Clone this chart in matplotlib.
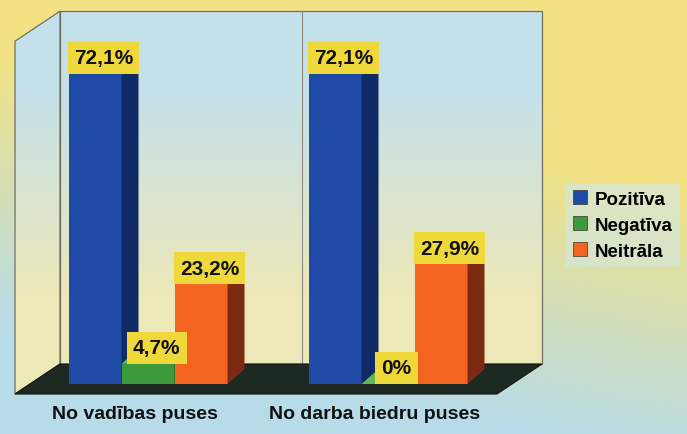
import numpy as np
import matplotlib.pyplot as plt
from matplotlib.patches import Polygon, Patch

categories = ["No vadības puses", "No darba biedru puses"]
series = ["Pozitīva", "Negatīva", "Neitrāla"]
values = {
    "Pozitīva": [72.1, 72.1],
    "Negatīva": [4.7, 0.0],
    "Neitrāla": [23.2, 27.9],
}
value_labels = {
    "Pozitīva": ["72,1%", "72,1%"],
    "Negatīva": ["4,7%", "0%"],
    "Neitrāla": ["23,2%", "27,9%"],
}

front_colors = ["#1f4ba6", "#3c9a3a", "#f2641f"]
side_colors = ["#102a66", "#1e5c22", "#7c2a12"]
top_colors = ["#3a66c0", "#5cb85a", "#f58a50"]

plt.rcParams['font.family'] = ['Liberation Sans', 'DejaVu Sans']

W, H = 687, 435
fig = plt.figure(figsize=(W / 100, H / 100), dpi=100)

# background gradient (yellow top-right -> light blue bottom-left)
bg = fig.add_axes([0, 0, 1, 1])
yy, xx = np.mgrid[0:1:200j, 0:1:300j]
t = np.clip(1.6 * yy - 0.5 * xx - 0.2, 0, 1)[..., None]
yellow = np.array([0.95, 0.89, 0.52])
blue = np.array([0.72, 0.86, 0.91])
bg.imshow(yellow * (1 - t) + blue * t, aspect='auto', extent=[0, 1, 0, 1])
bg.axis('off')

ax = fig.add_axes([0, 0, 1, 1])
ax.patch.set_alpha(0)
ax.axis('off')

# scale: 240 px per category, 4.3 px per percent
px_x, px_y = 240.0, 4.3
xlim = (-148 / px_x, (W - 148) / px_x)
ylim = (-50 / px_y, (H - 50) / px_y)
ax.set_xlim(*xlim)
ax.set_ylim(*ylim)

w = 53 / px_x
bdx, bdy = 17 / px_x, 15 / px_y      # bar depth
fdx, fdy = 45 / px_x, 30 / px_y      # floor depth
x0, x1 = -133 / px_x, 349 / px_x    # floor front edge
yf = -10 / px_y
ytop = 86.7

# wall gradient: light blue at top -> pale yellow lower down
wy = np.linspace(1, 0, 200)[:, None, None]
wt = np.clip((wy - 0.25) / 0.55, 0, 1)
wall_blue = np.array([0.77, 0.88, 0.92])
wall_yellow = np.array([0.93, 0.91, 0.72])
wall_img = wall_yellow * (1 - wt) + wall_blue * wt
wall_img = np.repeat(wall_img, 2, axis=1)

back = Polygon([(x0 + fdx, yf + fdy), (x1 + fdx, yf + fdy), (x1 + fdx, ytop), (x0 + fdx, ytop)],
               closed=True, facecolor="none", edgecolor="#6f6f60", lw=0.9, zorder=1.2)
side = Polygon([(x0, yf), (x0 + fdx, yf + fdy), (x0 + fdx, ytop), (x0, ytop - fdy)],
               closed=True, facecolor="none", edgecolor="#6f6f60", lw=0.9, zorder=1.2)
for p in (back, side):
    ax.add_patch(p)
    im = ax.imshow(wall_img, aspect='auto', extent=[xlim[0], xlim[1], yf, ytop], zorder=1)
    im.set_clip_path(p)
ax.set_xlim(*xlim)
ax.set_ylim(*ylim)
ax.plot([0.64, 0.64], [yf + fdy, ytop], color="#8a8a80", lw=0.8, zorder=1.5)
# floor
ax.add_patch(Polygon([(x0, yf), (x1, yf), (x1 + fdx, yf + fdy), (x0 + fdx, yf + fdy)],
                     closed=True, facecolor="#1d2a22", edgecolor="#111", lw=0.8, zorder=2))

for i in range(len(categories)):
    for j, s in enumerate(series):
        v = values[s][i]
        left = i + (j - 1.5) * w
        z = 3 + j
        ax.add_patch(Polygon([(left, 0), (left + w, 0), (left + w, v), (left, v)],
                             closed=True, facecolor=front_colors[j], edgecolor="none", zorder=z))
        ax.add_patch(Polygon([(left + w, 0), (left + w + bdx, bdy), (left + w + bdx, v + bdy), (left + w, v)],
                             closed=True, facecolor=side_colors[j], edgecolor="none", zorder=z))
        ax.add_patch(Polygon([(left, v), (left + w, v), (left + w + bdx, v + bdy), (left + bdx, v + bdy)],
                             closed=True, facecolor=top_colors[j], edgecolor="none", zorder=z))
        ax.text(left + w / 2 + bdx / 2, v + 6.5 / px_y, value_labels[s][i], ha='center', va='bottom',
                fontsize=15, fontweight='bold', color="#111",
                bbox=dict(boxstyle='square,pad=0.3', facecolor="#efd93a", edgecolor="none"),
                zorder=10)
    ax.text(i - 0.055, -30 / px_y, categories[i], ha='center', va='center',
            fontsize=14, fontweight='bold', color="#111")

handles = [Patch(facecolor=c, edgecolor="#333", lw=0.5) for c in front_colors]
leg = ax.legend(handles, series, loc='center left', bbox_to_anchor=(556 / W, (H - 226) / H),
                bbox_transform=fig.transFigure, frameon=True, fancybox=False,
                prop={'weight': 'bold', 'size': 13.5}, handlelength=0.75, handleheight=0.75,
                handletextpad=0.4, labelspacing=0.45, borderpad=0.4)
leg.get_frame().set_facecolor("#d6e6d2")
leg.get_frame().set_edgecolor("none")

fig.savefig("out.png", dpi=100)
